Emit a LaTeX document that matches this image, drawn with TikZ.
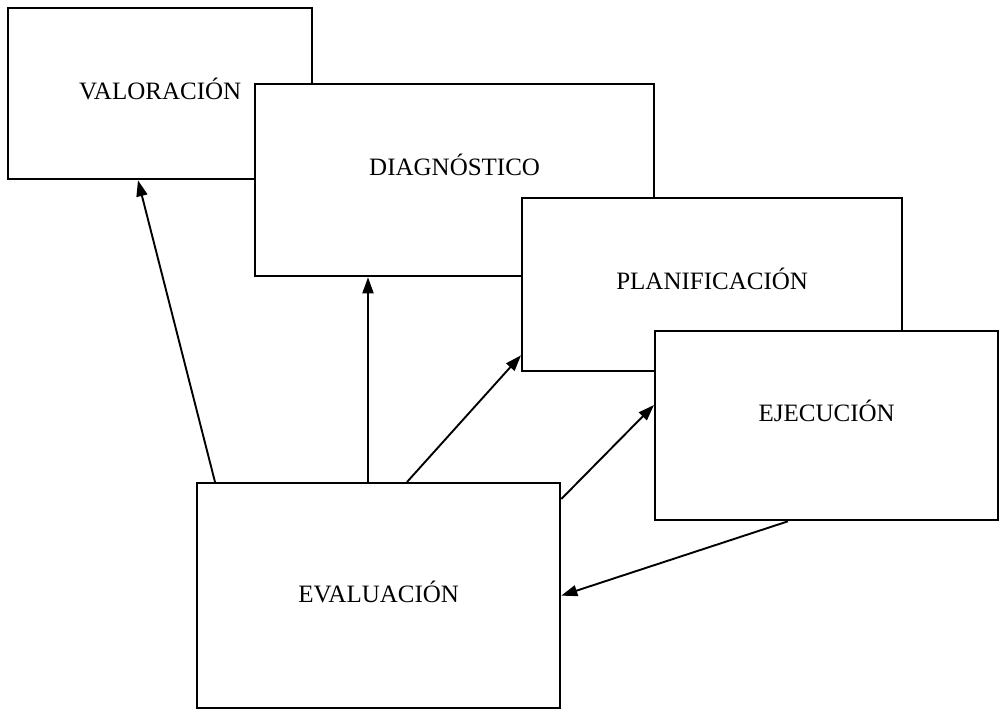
\documentclass[tikz,border=0pt]{standalone}
\usepackage{fontspec}
\setmainfont{Liberation Serif}
\usetikzlibrary{arrows.meta}
\tikzset{
  box/.style={draw=black, fill=white, line width=2.3pt, rectangle, inner sep=0pt, anchor=north west},
  lbl/.style={anchor=base, inner sep=0pt, font=\fontsize{25}{30}\selectfont},
  arr/.style={line width=1.9pt, -{Triangle[length=16pt,width=11pt]}}
}
\begin{document}
\begin{tikzpicture}[x=1pt,y=-1pt]
\useasboundingbox (0,0) rectangle (1005,709);
\node[box, minimum width=304pt, minimum height=171pt] (val) at (7,7) {};
\node[lbl] (tval) at ([yshift=-5.5pt]val.center) {VALORACIÓN};
\node[box, minimum width=399pt, minimum height=192pt] (diag) at (254,83) {};
\node[lbl] (tdiag) at ([yshift=5pt]diag.center) {DIAGNÓSTICO};
\node[box, minimum width=380pt, minimum height=173pt] (plan) at (521,197) {};
\node[lbl] (tplan) at ([yshift=-4.5pt]plan.center) {PLANIFICACIÓN};
\node[box, minimum width=343pt, minimum height=189pt] (ejec) at (654,330) {};
\node[lbl] (tejec) at ([yshift=4.5pt]ejec.center) {EJECUCIÓN};
\node[box, minimum width=363pt, minimum height=225pt] (eval) at (196,482) {};
\node[lbl] (teval) at ([yshift=-7pt]eval.center) {EVALUACIÓN};
\draw[arr] ([xshift=19pt]eval.north west) -- ([xshift=131pt]val.south west);
\draw[arr] ([xshift=172pt]eval.north west) -- ([xshift=114pt]diag.south west);
\draw[arr] ([xshift=211pt]eval.north west) -- ([yshift=17pt]plan.south west);
\draw[arr] ([yshift=-17pt]eval.north east) -- ([yshift=-75pt]ejec.north west);
\draw[arr] ([xshift=134pt]ejec.south west) -- (eval.east);
\end{tikzpicture}
\end{document}
